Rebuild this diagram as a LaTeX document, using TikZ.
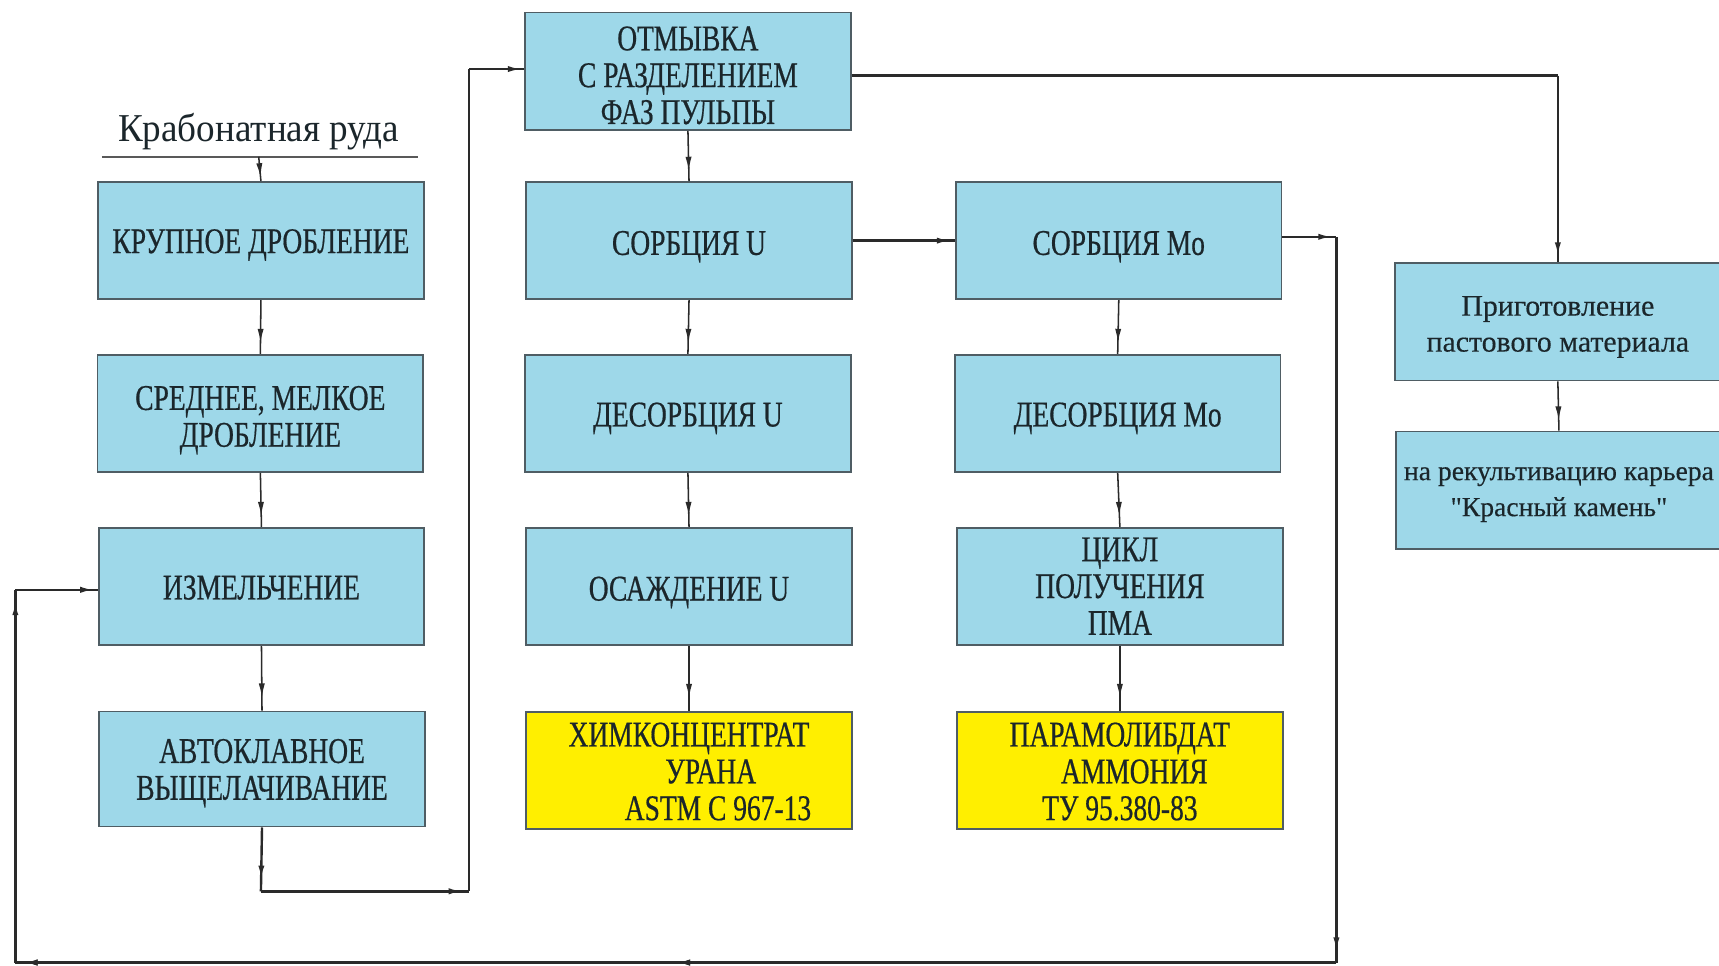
\documentclass[tikz,border=0pt]{standalone}
\usepackage{fontspec}
\setmainfont{Liberation Serif}
\newfontfamily\boxfont[FakeStretch=0.76,FakeBold=0.5]{Liberation Serif}
\newfontfamily\titlefont[FakeStretch=0.94]{Liberation Serif}
\newfontfamily\sidefont[FakeBold=0.3]{Liberation Serif}
\usetikzlibrary{arrows.meta,decorations.markings}
\definecolor{boxblue}{HTML}{9ED8E9}
\definecolor{boxyellow}{HTML}{FFEF00}
\definecolor{edgec}{HTML}{4F5D64}
\definecolor{wire}{HTML}{2A2A2A}
\definecolor{ink}{HTML}{1B262B}
% #1 = distance of the first baseline below the box centre, #2 = lines
\newcommand\btxt[2]{\raisebox{0pt}[\dimexpr20pt+#1\relax][\dimexpr20pt-#1\relax]{\begin{tabular}[t]{@{}c@{}}#2\end{tabular}}}
\begin{document}
\begin{tikzpicture}[x=0.5pt,y=-0.5pt,
  box/.style={draw=edgec, line width=0.8pt, fill=boxblue, minimum width=148.5pt,
    minimum height=53.5pt, text=ink, inner sep=0pt,
    font=\boxfont\fontsize{16.5}{16.8}\selectfont},
  ybox/.style={box, fill=boxyellow},
  sidebox/.style={box, font=\sidefont\fontsize{#1}{16.4}\selectfont},
  conn/.style={draw=wire, color=wire, line width=1.1pt},
  thinconn/.style={draw=wire, color=wire, line width=0.7pt},
  tipat/.style={postaction={decorate}, decoration={markings,
    mark=at position #1 with {\arrow{Latex[length=6.5pt,width=2.8pt]}}}}
]
\useasboundingbox (0,0) rectangle (1568,881);
\clip (0,0) rectangle (1568,881);

% title
\node[anchor=base, text=ink, font=\titlefont\fontsize{18}{20}\selectfont, inner sep=0pt] (title) at (236,129) {Крабонатная руда};
\coordinate (ulL) at (93,143);
\coordinate (ulR) at (381,143);
\coordinate (ulM) at (236,143);
\draw[line width=0.8pt, draw=gray!70!black] (ulL) -- (ulR);

% column 1
\node[box] (k1) at (238,219.5) {\btxt{5.7pt}{КРУПНОЕ ДРОБЛЕНИЕ}};
\node[box] (k2) at (237.5,377) {\btxt{-1.55pt}{СРЕДНЕЕ, МЕЛКОЕ\\ДРОБЛЕНИЕ}};
\node[box] (k3) at (238.5,535) {\btxt{5.9pt}{ИЗМЕЛЬЧЕНИЕ}};
\node[box, minimum height=52.5pt] (k4) at (239,701.5) {\btxt{-2.8pt}{АВТОКЛАВНОЕ\\ВЫЩЕЛАЧИВАНИЕ}};

% column 2
\node[box] (u0) at (627.5,65) {\btxt{-9.55pt}{ОТМЫВКА\\С РАЗДЕЛЕНИЕМ\\ФАЗ ПУЛЬПЫ}};
\node[box] (u1) at (628.5,219.5) {\btxt{6.5pt}{СОРБЦИЯ U}};
\node[box] (u2) at (627.5,377) {\btxt{6pt}{ДЕСОРБЦИЯ U}};
\node[box] (u3) at (628.5,535) {\btxt{6.4pt}{ОСАЖДЕНИЕ U}};
\node[ybox] (u4) at (628.5,703) {\btxt{-11.05pt}{ХИМКОНЦЕНТРАТ\\\hspace*{1.2em}УРАНА\\\hspace*{1.6em}ASTM C 967-13}};

% column 3
\node[box] (m1) at (1020.5,219.5) {\btxt{6.5pt}{СОРБЦИЯ Mo}};
\node[box] (m2) at (1019.5,377) {\btxt{6pt}{ДЕСОРБЦИЯ Mo}};
\node[box] (m3) at (1021.5,535) {\btxt{-11.55pt}{ЦИКЛ\\ПОЛУЧЕНИЯ\\ПМА}};
\node[ybox] (m4) at (1021.5,703) {\btxt{-11.05pt}{ПАРАМОЛИБДАТ\\\hspace*{0.8em}АММОНИЯ\\ТУ 95.380-83}};

% column 4
\node[sidebox=13.6] (p1) at (1421,293.5) {\btxt{-2.8pt}{Приготовление\\пастового материала}};
\node[sidebox=12.6] (p2) at (1422,447) {\btxt{-4.5pt}{на рекультивацию карьера\\"Красный камень"}};

% short vertical links
\draw[thinconn, tipat=0.85] (ulM) -- (k1.north);
\draw[thinconn, tipat=0.8] (k1.south) -- (k2.north);
\draw[thinconn, tipat=0.8] (k2.south) -- (k3.north);
\draw[thinconn, tipat=0.8] (k3.south) -- (k4.north);
\draw[thinconn, tipat=0.8] (u0.south) -- (u1.north);
\draw[thinconn, tipat=0.8] (u1.south) -- (u2.north);
\draw[thinconn, tipat=0.8] (u2.south) -- (u3.north);
\draw[thinconn, tipat=0.8] (u3.south) -- (u4.north);
\draw[thinconn, tipat=0.8] (m1.south) -- (m2.north);
\draw[thinconn, tipat=0.8] (m2.south) -- (m3.north);
\draw[thinconn, tipat=0.8] (m3.south) -- (m4.north);
\draw[thinconn, tipat=0.8] (p1.south) -- (p2.north);

% sorption U -> sorption Mo
\draw[conn, tipat=0.96] (u1.east) -- (m1.west);

% autoclave -> washing
\coordinate (a1) at (238,813);
\coordinate (a2) at (428,813);
\coordinate (a3) at (428,63);
\draw[conn, tipat=0.82] (k4.south) -- (a1);
\draw[conn, tipat=0.97] (a1) -- (a2);
\draw[conn] (a2) -- (a3);
\draw[conn, tipat=0.96] (a3) -- (a3 -| u0.west);

% washing -> paste preparation
\coordinate (b1) at (1421,69);
\draw[conn] (u0.east |- b1) -- (b1);
\draw[conn, tipat=0.97] (b1) -- (p1.north);

% sorption Mo -> recycle to grinding
\coordinate (r1) at (1219,216);
\coordinate (r2) at (1219,878);
\coordinate (r3) at (14,878);
\coordinate (r4) at (14,538);
\draw[conn, tipat=0.93] (m1.east |- r1) -- (r1);
\draw[conn, tipat=0.985] (r1) -- (r2);
\draw[conn, tipat=0.5, tipat=0.994] (r2) -- (r3);
\draw[conn, tipat=0.97] (r3) -- (r4);
\draw[conn, tipat=0.96] (r4) -- (r4 -| k3.west);
\end{tikzpicture}
\end{document}
